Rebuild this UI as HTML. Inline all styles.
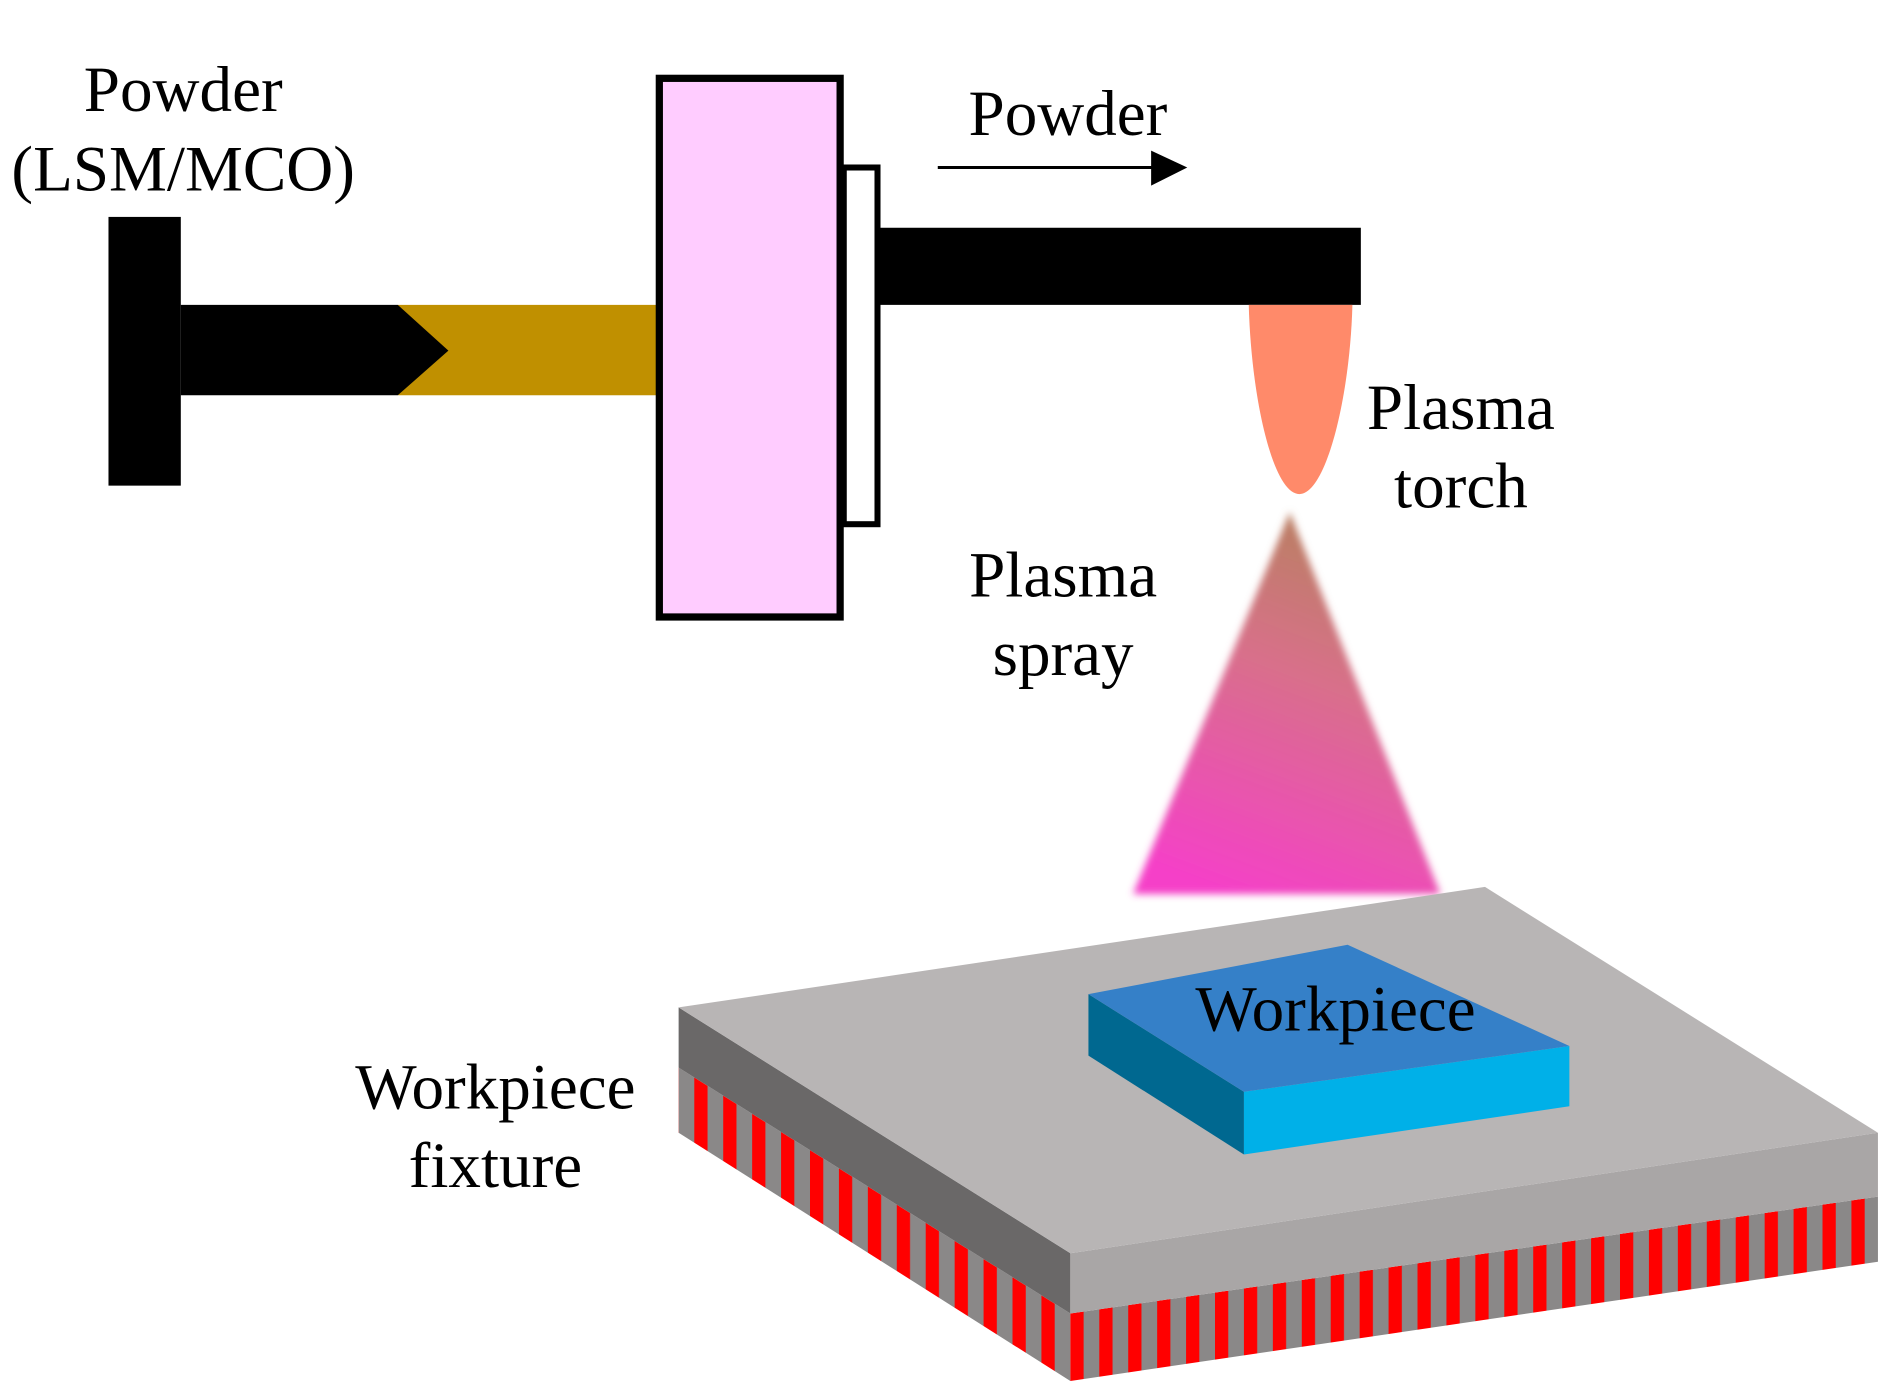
<!DOCTYPE html>
<html><head><meta charset="utf-8"><style>
html,body{margin:0;padding:0;background:#fff;}
svg{display:block;}
text{font-family:"Liberation Serif",serif;font-size:54px;fill:#000;}
</style></head><body>
<svg width="1890" height="1381" viewBox="0 0 1568 1146" preserveAspectRatio="none" xmlns="http://www.w3.org/2000/svg">
<defs>
<linearGradient id="sp" x1="0.3" y1="1" x2="0.6" y2="0">
<stop offset="0" stop-color="#F540C8"/><stop offset="0.6" stop-color="#D8708A"/><stop offset="1" stop-color="#B88060"/>
</linearGradient>
<filter id="bl" x="-0.1" y="-0.1" width="1.2" height="1.2"><feGaussianBlur stdDeviation="3"/></filter>
<pattern id="st" patternUnits="userSpaceOnUse" width="24" height="40">
<rect width="24" height="40" fill="#8a8888"/><rect width="11" height="40" fill="#ff0000"/>
</pattern>
</defs>
<rect width="1568" height="1146" fill="#fff"/>
<rect x="330" y="253" width="215" height="75" fill="#C09000"/>
<rect x="90" y="180" width="60" height="223" fill="#000"/>
<polygon points="150,253 330,253 372,291 330,328 150,328" fill="#000"/>
<rect x="547" y="65" width="150" height="447" fill="#FFCCFF" stroke="#000" stroke-width="6"/>
<rect x="700" y="139" width="28" height="296" fill="#fff" stroke="#000" stroke-width="5"/>
<rect x="730" y="189" width="399" height="64" fill="#000"/>
<line x1="778" y1="139" x2="960" y2="139" stroke="#000" stroke-width="2.5"/>
<polygon points="955,125 985,139 955,154" fill="#000"/>
<path d="M1036,253 L1122,253 C1120,330 1100,410 1078,410 C1056,410 1038,330 1036,253 Z" fill="#FF8A6A"/>
<polygon points="1070,425 1195,742 940,742" fill="url(#sp)" filter="url(#bl)"/>
<polygon points="563,886 888,1090 888,1146 563,940" fill="url(#st)"/>
<polygon points="888,1090 1558,993 1558,1047 888,1146" fill="url(#st)"/>
<polygon points="563,836 888,1040 888,1090 563,886" fill="#6A6868"/>
<polygon points="888,1040 1558,940 1558,993 888,1090" fill="#A9A6A6"/>
<polygon points="563,836 1232,736 1558,940 888,1040" fill="#B8B5B5"/>
<polygon points="903,825 1032,906 1032,958 903,876" fill="#006890"/>
<polygon points="1032,906 1302,868 1302,918 1032,958" fill="#00B0E8"/>
<polygon points="903,825 1118,784 1302,868 1032,906" fill="#3580C8"/>
<text x="152" y="92" text-anchor="middle">Powder</text>
<text x="152" y="158" text-anchor="middle">(LSM/MCO)</text>
<text x="886" y="112" text-anchor="middle">Powder</text>
<text x="1212" y="356" text-anchor="middle">Plasma</text>
<text x="1212" y="421" text-anchor="middle">torch</text>
<text x="882" y="495" text-anchor="middle">Plasma</text>
<text x="882" y="560" text-anchor="middle">spray</text>
<text x="411" y="920" text-anchor="middle">Workpiece</text>
<text x="411" y="985" text-anchor="middle">fixture</text>
<text x="1108" y="855" text-anchor="middle">Workpiece</text>
</svg>
</body></html>
